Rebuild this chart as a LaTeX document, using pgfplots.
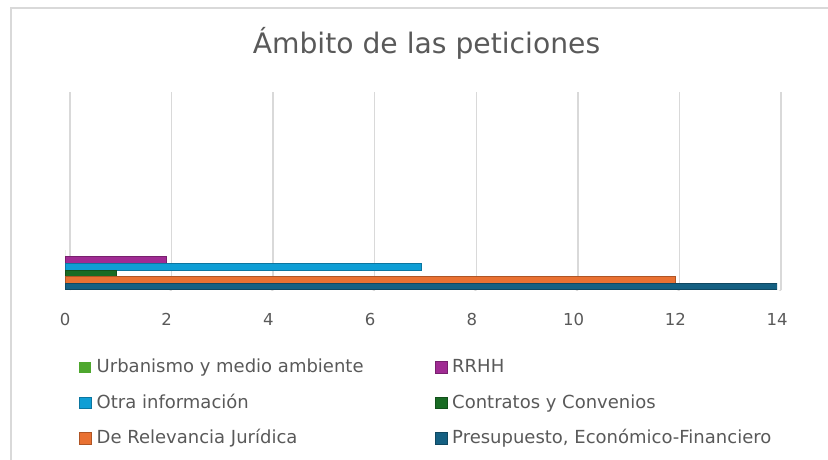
\documentclass[border=0pt]{standalone}
\usepackage{pgfplots}
\pgfplotsset{compat=1.18}
\usepackage{fontspec}
\setmainfont{DejaVu Sans}
\definecolor{cA}{HTML}{4EA72E}
\definecolor{cB}{HTML}{A02B93}
\definecolor{cC}{HTML}{0F9ED5}
\definecolor{cD}{HTML}{196B24}
\definecolor{cE}{HTML}{E97132}
\definecolor{cF}{HTML}{156082}
\definecolor{txt}{HTML}{595959}
\definecolor{gridc}{HTML}{D9D9D9}
\begin{document}
\begin{tikzpicture}[x=1pt,y=1pt]
\useasboundingbox (0,0) rectangle (828,459);
\draw[gridc, line width=1.2pt] (11,-20) rectangle (860,451);
% back wall grid
\begin{axis}[at={(70pt,169pt)}, anchor=south west, scale only axis,
  width=711pt, height=198pt, xmin=0, xmax=14, ymin=0, ymax=1,
  xtick={0,2,4,6,8,10,12,14}, xticklabels={}, ytick=\empty,
  major tick length=0, axis line style={draw=none},
  xmajorgrids, grid style={gridc, line width=1.3pt}]
\pgfplotsinvokeforeach{0,2,4,6,8,10,12,14}{\draw[gridc, line width=1.3pt] (axis cs:#1,0) -- ++(-8pt,-6pt);}
\end{axis}
% bars
\begin{axis}[at={(65pt,169pt)}, anchor=south west, scale only axis,
  width=712pt, height=198pt, xmin=0, xmax=14, ymin=0, ymax=198,
  xbar, bar width=6.6pt, bar shift=0pt,
  xtick={0,2,4,6,8,10,12,14}, ytick=\empty,
  major tick length=0, axis line style={draw=none},
  tick label style={font=\fontsize{16.5}{20}\selectfont, text=txt},
  xticklabel style={yshift=-20pt},
  /pgf/number format/assume math mode=true,
  title={Ámbito de las peticiones},
  title style={font=\fontsize{28.2}{33}\selectfont, text=txt, at={(0.5077,1.217)}, anchor=center},
  legend columns=2,
  legend cell align=left,
  legend style={at={(0.0197,-0.351)}, anchor=north west, draw=none, fill=none,
    inner sep=0pt, column sep=5pt, row sep=18.5pt,
    font=\fontsize{18}{21}\selectfont, text=txt,
    nodes={inner sep=0pt, text height=13pt, text depth=4pt}},
  legend image code/.code={\fill[#1] (0pt,-5pt) rectangle (12pt,6.6pt);},
]
\addplot[fill=cA, draw=none] coordinates {(0,36.7)};
\addlegendentry{\makebox[333pt][l]{Urbanismo y medio ambiente}}
\addplot[fill=cB, draw=cB!75!black, line width=0.5pt] coordinates {(2,30.1)};
\addlegendentry{RRHH}
\addplot[fill=cC, draw=cC!75!black, line width=0.5pt] coordinates {(7,23.5)};
\addlegendentry{\makebox[333pt][l]{Otra información}}
\addplot[fill=cD, draw=cD!75!black, line width=0.5pt] coordinates {(1,16.9)};
\addlegendentry{Contratos y Convenios}
\addplot[fill=cE, draw=cE!75!black, line width=0.5pt] coordinates {(12,10.3)};
\addlegendentry{\makebox[333pt][l]{De Relevancia Jurídica}}
\addplot[fill=cF, draw=cF!75!black, line width=0.5pt] coordinates {(14,3.75)};
\addlegendentry{Presupuesto, Económico-Financiero}
\end{axis}
\end{tikzpicture}
\end{document}
